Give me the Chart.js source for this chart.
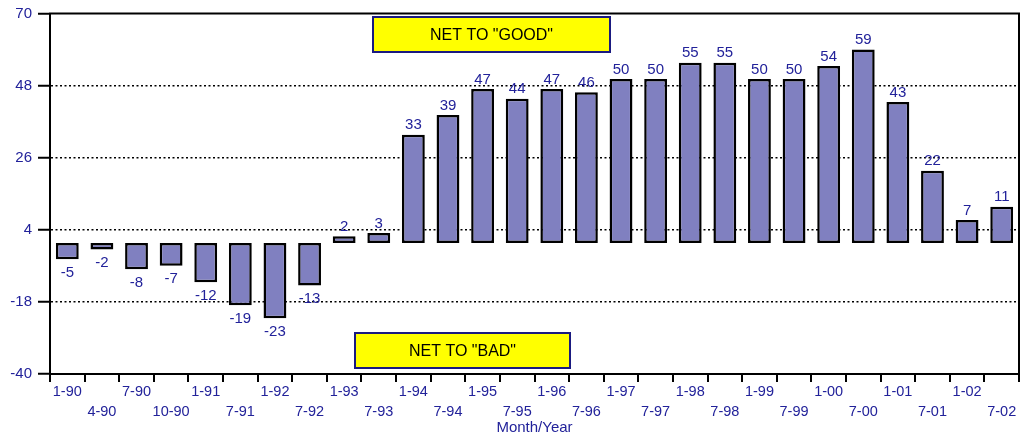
<!DOCTYPE html>
<html>
<head>
<meta charset="utf-8">
<script src="https://cdn.jsdelivr.net/npm/chart.js@4"></script>
<style>
  html, body { margin: 0; padding: 0; background: #fff; }
  #wrap { width: 1021px; height: 441px; }
</style>
</head>
<body>
<div id="wrap"><canvas id="chart"></canvas></div>
<script>
const periods = ["1-90", "4-90", "7-90", "10-90", "1-91", "7-91", "1-92", "7-92", "1-93", "7-93",
  "1-94", "7-94", "1-95", "7-95", "1-96", "7-96", "1-97", "7-97", "1-98", "7-98",
  "1-99", "7-99", "1-00", "7-00", "1-01", "7-01", "1-02", "7-02"];
const netValues = [-5, -2, -8, -7, -12, -19, -23, -13, 2, 3,
  33, 39, 47, 44, 47, 46, 50, 50, 55, 55,
  50, 50, 54, 59, 43, 22, 7, 11];
const yTicks = [-40, -18, 4, 26, 48, 70];
const notes = [
  { text: 'NET TO "GOOD"', x0: 373, x1: 610, y0: 17, y1: 52 },
  { text: 'NET TO "BAD"', x0: 355, x1: 570, y0: 333, y1: 368 }
];

const navy = "#22229a";
const font = "'Liberation Sans', Arial, sans-serif";

const extras = {
  id: "extras",
  afterDatasetsDraw(chart) {
    const { ctx, chartArea: a } = chart;
    ctx.save();
    // value labels
    const meta = chart.getDatasetMeta(0);
    ctx.font = "15px " + font;
    ctx.fillStyle = navy;
    ctx.textAlign = "center";
    meta.data.forEach((bar, i) => {
      const v = netValues[i];
      if (v >= 0) {
        ctx.textBaseline = "bottom";
        ctx.fillText(String(v), bar.x, bar.y - 2);
      } else {
        ctx.textBaseline = "top";
        ctx.fillText(String(v), bar.x, bar.y + 6);
      }
    });
    // notes
    notes.forEach((n) => {
      ctx.fillStyle = "#ffff00";
      ctx.fillRect(n.x0, n.y0, n.x1 - n.x0, n.y1 - n.y0);
      ctx.strokeStyle = "#1a1a80";
      ctx.lineWidth = 2;
      ctx.strokeRect(n.x0, n.y0, n.x1 - n.x0, n.y1 - n.y0);
      ctx.fillStyle = "#000";
      ctx.textBaseline = "middle";
      ctx.font = "16px " + font;
      ctx.fillText(n.text, (n.x0 + n.x1) / 2, (n.y0 + n.y1) / 2 + 1);
    });
    // frame
    ctx.strokeStyle = "#000";
    ctx.lineWidth = 2;
    ctx.strokeRect(a.left, a.top, a.right - a.left, a.bottom - a.top);
    ctx.restore();
  }
};

new Chart(document.getElementById("chart"), {
  type: "bar",
  data: {
    labels: periods,
    datasets: [{
      data: netValues,
      backgroundColor: "#8080c0",
      borderColor: "#000",
      borderWidth: 2.5,
      borderSkipped: false,
      barPercentage: 0.66,
      categoryPercentage: 1
    }]
  },
  options: {
    responsive: true,
    maintainAspectRatio: false,
    animation: false,
    layout: { padding: { top: 12, right: 2 } },
    plugins: { legend: { display: false }, tooltip: { enabled: false } },
    scales: {
      x: {
        offset: true,
        grid: {
          offset: true,
          drawOnChartArea: false,
          drawTicks: true,
          tickLength: 8,
          color: "#000",
          lineWidth: 2
        },
        border: { display: true, color: "#000", width: 2 },
        ticks: {
          autoSkip: false,
          maxRotation: 0,
          padding: 0,
          color: navy,
          font: { family: font, size: 14.5, lineHeight: 1.38 },
          callback: (v, i) => (i % 2 === 0 ? [periods[i], ""] : ["", periods[i]])
        },
        title: {
          display: true,
          text: "Month/Year",
          color: navy,
          font: { family: font, size: 15 },
          padding: { top: 0, bottom: 4 }
        },
        afterFit: (s) => { s.height = 67; }
      },
      y: {
        min: -40,
        max: 70,
        afterBuildTicks: (s) => { s.ticks = yTicks.map((v) => ({ value: v })); },
        grid: {
          drawTicks: true,
          tickLength: 12,
          color: (c) => (c.tick && (c.tick.value === -40 || c.tick.value === 70) ? "rgba(0,0,0,0)" : "#000"),
          lineWidth: 1.5,
          tickColor: "#000",
          tickWidth: 2,
          tickBorderDash: []
        },
        border: { display: true, color: "#000", width: 2, dash: [2, 2.5] },
        ticks: {
          padding: 6,
          color: navy,
          font: { family: font, size: 15, lineHeight: 1 }
        },
        afterFit: (s) => { s.width = 50; }
      }
    }
  },
  plugins: [extras]
});
</script>
</body>
</html>
